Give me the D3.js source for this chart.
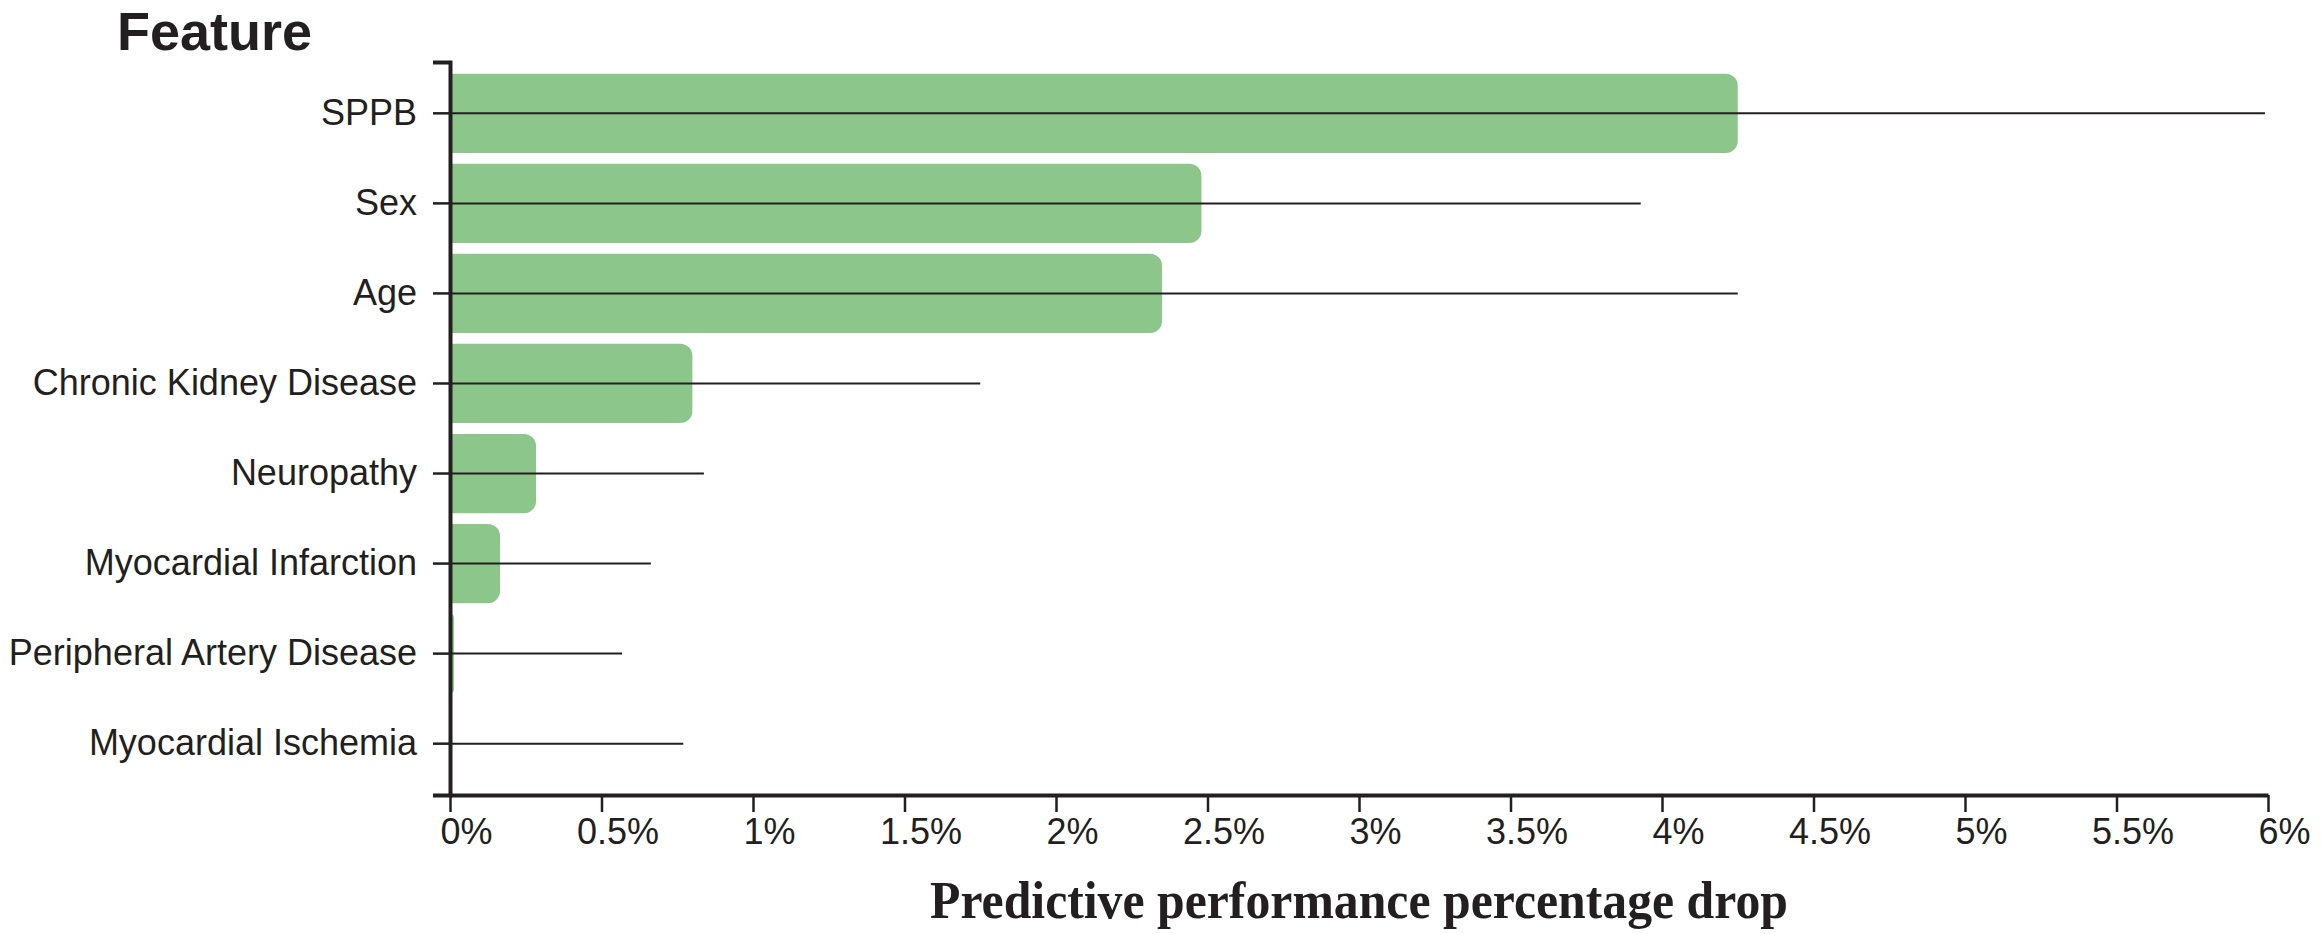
<!DOCTYPE html>
<html>

<head>
    <meta charset="UTF-8">
    <title>Feature importance - predictive performance drop</title>
    <script src="https://d3js.org/d3.v7.min.js"></script>
    <style>
        body { margin: 0; background: #fff; }
    </style>
</head>

<body>
    <script>
        // values (percent)
        const features = ["SPPB", "Sex", "Age", "Chronic Kidney Disease", "Neuropathy",
            "Myocardial Infarction", "Peripheral Artery Disease", "Myocardial Ischemia"];
        const meanDrop = [4.25, 2.48, 2.35, 0.80, 0.284, 0.165, 0.013, 0];
        const upperDrop = [5.99, 3.93, 4.25, 1.75, 0.838, 0.663, 0.568, 0.77];
        const xTicks = [0, 0.5, 1, 1.5, 2, 2.5, 3, 3.5, 4, 4.5, 5, 5.5, 6];

        const width = 2322, height = 934;
        const ink = "#231f20";

        const data = features.map((f, i) => ({ feature: f, value: meanDrop[i], upper: upperDrop[i] }));

        const x = d3.scaleLinear().domain([0, 6]).range([450, 2268]);
        const y = d3.scaleBand().domain(features).range([62, 795])
            .paddingInner(0.12).paddingOuter(0.13);

        const svg = d3.select("body").append("svg")
            .attr("width", width).attr("height", height);

        // bar with square left end and rounded right end
        const barPath = (x0, x1, y0, h, r) => {
            r = Math.min(r, x1 - x0, h / 2);
            return `M${x0},${y0}H${x1 - r}A${r},${r} 0 0 1 ${x1},${y0 + r}` +
                `V${y0 + h - r}A${r},${r} 0 0 1 ${x1 - r},${y0 + h}H${x0}Z`;
        };

        svg.append("g")
            .selectAll("path")
            .data(data.filter(d => d.value > 0)).enter().append("path")
            .attr("d", d => barPath(x(0), x(d.value), y(d.feature), y.bandwidth(), 12))
            .attr("fill", "#8cc68a");

        svg.append("g")
            .selectAll("line")
            .data(data).enter().append("line")
            .attr("x1", x(0)).attr("x2", d => x(d.upper))
            .attr("y1", d => y(d.feature) + y.bandwidth() / 2)
            .attr("y2", d => y(d.feature) + y.bandwidth() / 2)
            .attr("stroke", ink).attr("stroke-width", 2);

        const fmt = d => d3.format("~g")(d) + "%";

        const xAxis = svg.append("g")
            .attr("transform", `translate(0, 795)`)
            .call(d3.axisBottom(x).tickValues(xTicks).tickFormat(fmt)
                .tickSize(17).tickSizeOuter(0).tickPadding(6));

        const yAxis = svg.append("g")
            .attr("transform", `translate(450, 0)`)
            .call(d3.axisLeft(y).tickSize(17).tickSizeOuter(17).tickPadding(16));

        [xAxis, yAxis].forEach(g => {
            g.select(".domain").attr("stroke", ink).attr("stroke-width", 4);
            g.selectAll(".tick line").attr("stroke", ink).attr("stroke-width", 2.5);
            g.selectAll("text")
                .attr("fill", ink)
                .style("font-family", "'Liberation Sans', Arial, sans-serif")
                .style("font-size", "36px");
        });
        xAxis.selectAll(".tick text").attr("dx", 16);

        svg.append("text")
            .attr("x", 117).attr("y", 50)
            .attr("fill", ink)
            .style("font-family", "'Liberation Sans', Arial, sans-serif")
            .style("font-weight", "bold")
            .style("font-size", "54px")
            .text("Feature");

        svg.append("text")
            .attr("x", (x.range()[0] + x.range()[1]) / 2).attr("y", 918)
            .attr("text-anchor", "middle")
            .attr("fill", ink)
            .attr("textLength", 858).attr("lengthAdjust", "spacingAndGlyphs")
            .style("font-family", "'Liberation Serif', 'Times New Roman', serif")
            .style("font-weight", "bold")
            .style("font-size", "53px")
            .text("Predictive performance percentage drop");
    </script>
</body>

</html>
